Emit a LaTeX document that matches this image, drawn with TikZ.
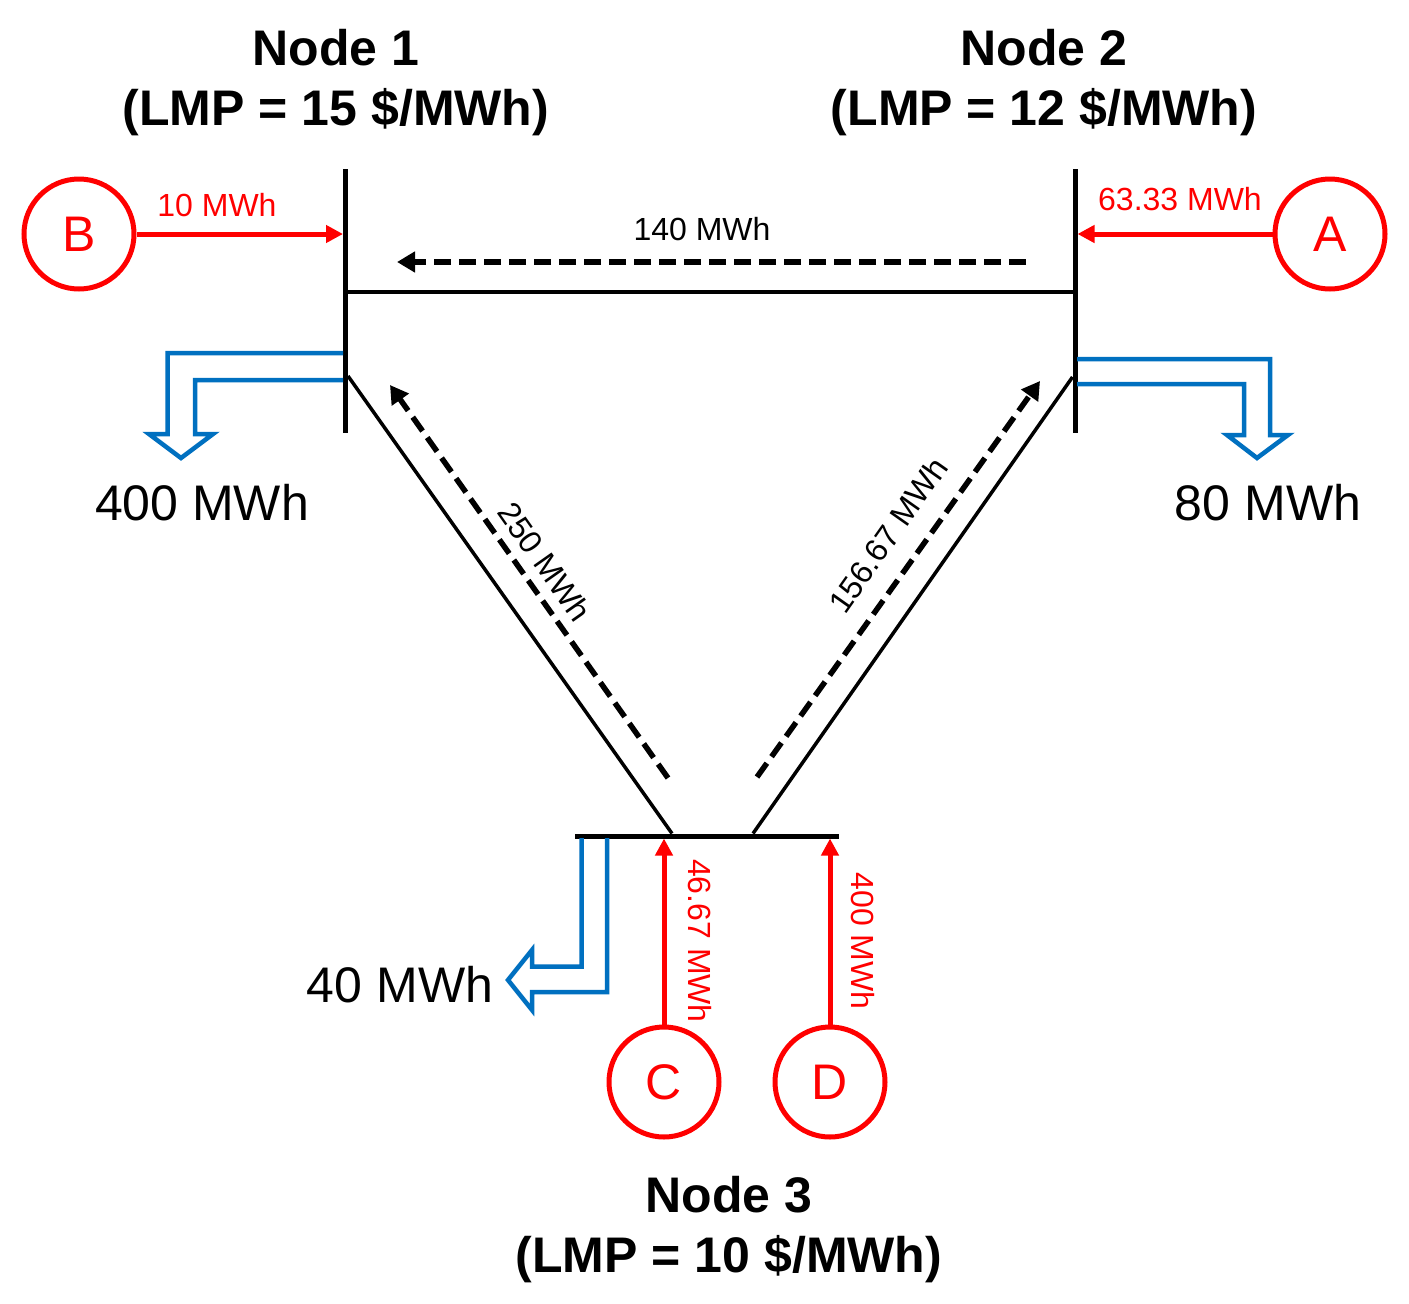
\documentclass[tikz,border=0pt]{standalone}
\usepackage{fontspec}
\setmainfont{Liberation Sans}
\usepackage{xcolor}
\usepackage{tikz}
\usetikzlibrary{arrows.meta}
\definecolor{genred}{RGB}{255,0,0}
\definecolor{loadblue}{RGB}{0,112,192}

\begin{document}
\begin{tikzpicture}[x=1pt,y=-1pt,
  every node/.style={inner sep=0pt},
  bus/.style={line width=5pt},
  branch/.style={line width=3.5pt},
  flow/.style={line width=5.5pt,dash pattern=on 17pt off 8pt,-{Triangle[length=18pt,width=20pt]}},
  gen/.style={circle,draw=genred,line width=5pt,minimum size=110pt,text=genred,
    font=\fontsize{50pt}{56pt}\selectfont},
  genflow/.style={genred,line width=5pt,shorten >=2.5pt,-{Triangle[length=17pt,width=17pt]}},
  load/.style={loadblue,line width=4.5pt,line join=miter},
  title/.style={align=center,font=\fontsize{50pt}{60pt}\selectfont\bfseries},
  small/.style={font=\fontsize{32pt}{36pt}\selectfont},
  big/.style={font=\fontsize{50pt}{56pt}\selectfont}]
  \path[fill=white,use as bounding box] (0,0) rectangle (1409,1304);

  \coordinate (b1t) at (345.5,169);
  \coordinate (b1b) at (345.5,433);
  \coordinate (b2t) at (1075,169);
  \coordinate (b2b) at (1075,433);
  \coordinate (b3l) at (575,836);
  \coordinate (b3r) at (839,836);
  \draw[bus] (b1t) -- (b1b);
  \draw[bus] (b2t) -- (b2b);
  \draw[bus] (b3l) -- (b3r);

  \coordinate (l12a) at (348,292);
  \coordinate (l12b) at (1072.5,292);
  \coordinate (l13a) at (348,376);
  \coordinate (l13b) at (672,833.5);
  \coordinate (l23a) at (1072.5,377);
  \coordinate (l23b) at (753,833.5);
  \draw[branch] (l12a) -- (l12b);
  \draw[branch] (l13a) -- (l13b);
  \draw[branch] (l23a) -- (l23b);

  \coordinate (f12a) at (1026,262);
  \coordinate (f12b) at (397,262);
  \coordinate (f13a) at (668,778);
  \coordinate (f13b) at (390,385);
  \coordinate (f23a) at (757,777);
  \coordinate (f23b) at (1040,381);
  \draw[flow] (f12a) -- (f12b);
  \draw[flow] (f13a) -- (f13b);
  \draw[flow] (f23a) -- (f23b);
  \node[small] (f12) at (702,229) {140 MWh};
  \node[small,rotate=-54.8] (f13) at (545,562) {250 MWh};
  \node[small,rotate=54.8] (f23) at (888,535) {156.67 MWh};

  \node[gen] (genB) at (79,234) {B};
  \node[gen] (genA) at (1330,234) {A};
  \node[gen] (genC) at (664,1082) {C};
  \node[gen] (genD) at (830,1082) {D};
  \draw[genflow] (genB) -- (genB -| b1t);
  \draw[genflow] (genA) -- (genA -| b2t);
  \draw[genflow] (genC) -- (genC |- b3l);
  \draw[genflow] (genD) -- (genD |- b3l);
  \node[small,text=genred] (gB) at (217,205) {10 MWh};
  \node[small,text=genred] (gA) at (1180,199) {63.33 MWh};
  \node[small,text=genred,rotate=-90] (gC) at (700,941) {46.67 MWh};
  \node[small,text=genred,rotate=-90] (gD) at (863,941) {400 MWh};

  \draw[load] (343,353) -- (167.5,353) -- (167.5,434) -- (149,434) -- (181,458)
    -- (213,434) -- (195,434) -- (195,380) -- (343,380);
  \draw[load] (1077,359) -- (1270,359) -- (1270,435) -- (1288,435) -- (1257,458)
    -- (1227,435) -- (1244,435) -- (1244,384) -- (1077,384);
  \draw[load] (607,838) -- (607,992) -- (532,992) -- (532,1010) -- (508,980)
    -- (532,950) -- (532,966.5) -- (581.5,966.5) -- (581.5,838);
  \node[big] (d1) at (202,503) {400 MWh};
  \node[big] (d2) at (1268,503) {80 MWh};
  \node[big] (d3) at (400,985) {40 MWh};

  \node[title] (t1) at (336,83) {Node 1\\(LMP = 15 \$/MWh)};
  \node[title] (t2) at (1044,83) {Node 2\\(LMP = 12 \$/MWh)};
  \node[title] (t3) at (729,1230) {Node 3\\(LMP = 10 \$/MWh)};
\end{tikzpicture}
\end{document}
